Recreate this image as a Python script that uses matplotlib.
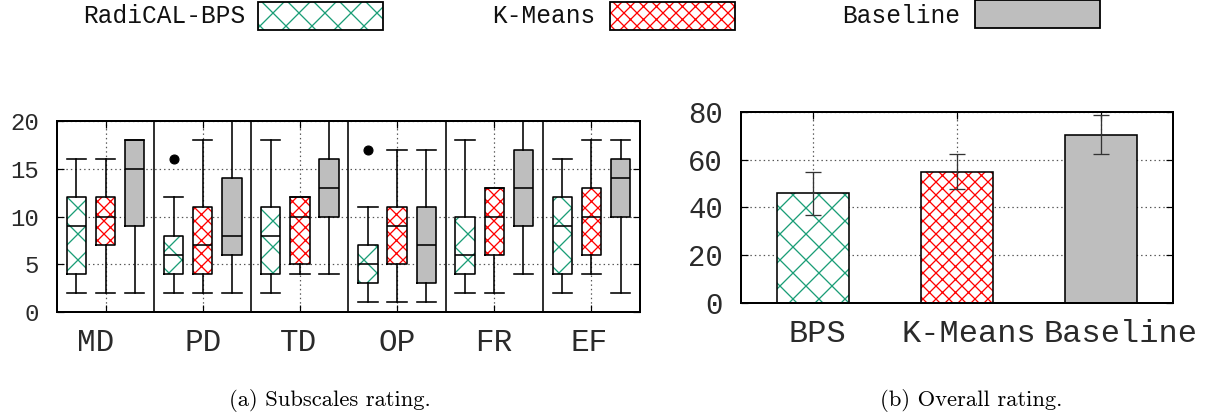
import matplotlib
matplotlib.use("Agg")
import matplotlib.pyplot as plt
from matplotlib.patches import Rectangle
from matplotlib.transforms import ScaledTranslation

DPI = 78
def pt(px):
    return px * 72.0 / DPI

# ---------------- data ----------------
categories = ['MD', 'PD', 'TD', 'OP', 'FR', 'EF']
methods = ['RadiCAL-BPS', 'K-Means', 'Baseline']

bps_whislo = [2, 2, 2, 1, 2, 2]
bps_q1 = [4, 4, 4, 3, 4, 4]
bps_med = [9, 6, 8, 5, 6, 9]
bps_q3 = [12, 8, 11, 7, 10, 12]
bps_whishi = [16, 12, 18, 11, 18, 16]
bps_fliers = [[], [16], [], [17], [], []]

km_whislo = [2, 2, 4, 1, 2, 4]
km_q1 = [7, 4, 5, 5, 6, 6]
km_med = [10, 7, 10, 9, 10, 10]
km_q3 = [12, 11, 12, 11, 13, 13]
km_whishi = [16, 18, 12, 17, 13, 18]
km_fliers = [[], [], [], [], [], []]

base_whislo = [2, 2, 4, 1, 4, 2]
base_q1 = [9, 6, 10, 3, 9, 10]
base_med = [15, 8, 13, 7, 13, 14]
base_q3 = [18, 14, 16, 11, 17, 16]
base_whishi = [18, 20, 20, 17, 20, 18]
base_fliers = [[], [], [], [], [], []]

overall_labels = ['BPS', 'K-Means', 'Baseline']
overall_mean = [46, 55, 70.5]
overall_err = [9, 7.5, 8.2]

subscale_ticks = [0, 5, 10, 15, 20]
overall_ticks = [0, 20, 40, 60, 80]

# ---------------- style ----------------
GREEN = '#1b9e77'
RED = '#ff0000'
GRAY = '#bebebe'
MONO = 'Liberation Mono'
TXT = '#2a2a2a'
plt.rcParams['hatch.linewidth'] = pt(1.3)

fig = plt.figure(figsize=(1207 / DPI, 414 / DPI), dpi=DPI)

axL = fig.add_axes([57 / 1207, 1 - 312 / 414, (640 - 57) / 1207, (312 - 121) / 414])
axR = fig.add_axes([741 / 1207, 1 - 302.7 / 414, (1173 - 741) / 1207, (302.7 - 112) / 414])

grid_kw = dict(color='#555555', linewidth=pt(1.2), linestyle=(0, (1.2, 2.5)))

def style_axes(ax, ylabsize, xlabsize):
    for s in ax.spines.values():
        s.set_linewidth(pt(2))
        s.set_color('black')
    ax.tick_params(direction='in', which='both', top=True, right=True,
                   length=pt(7), width=pt(1.2), color='black')
    ax.tick_params(axis='y', labelsize=pt(ylabsize), pad=pt(18))
    ax.tick_params(axis='x', labelsize=pt(xlabsize), pad=pt(16))
    for lab in ax.get_xticklabels() + ax.get_yticklabels():
        lab.set_fontfamily(MONO)
        lab.set_color(TXT)
    ax.set_axisbelow(True)
    ax.grid(True, **grid_kw)

def shift_labels(ax, offsets):
    for lab, dx in zip(ax.get_xticklabels(), offsets):
        lab.set_transform(lab.get_transform() +
                          ScaledTranslation(dx / DPI, 0, fig.dpi_scale_trans))

# ---------------- subscales boxplot ----------------
series = [
    (bps_whislo, bps_q1, bps_med, bps_q3, bps_whishi, bps_fliers, GREEN, 'x', -0.3),
    (km_whislo, km_q1, km_med, km_q3, km_whishi, km_fliers, RED, 'xx', 0.0),
    (base_whislo, base_q1, base_med, base_q3, base_whishi, base_fliers, None, None, 0.3),
]
line_kw = dict(color='black', linewidth=pt(1.6))
for wl, q1, med, q3, wh, fl, col, hatch, off in series:
    stats = [dict(whislo=wl[i], q1=q1[i], med=med[i], q3=q3[i], whishi=wh[i],
                  fliers=fl[i]) for i in range(len(categories))]
    pos = [i + off for i in range(len(categories))]
    if hatch:
        bp = dict(facecolor='white', edgecolor=col, hatch=hatch, linewidth=0)
    else:
        bp = dict(facecolor=GRAY, edgecolor=GRAY, linewidth=0)
    axL.bxp(stats, positions=pos, widths=0.2, patch_artist=True, boxprops=bp,
            showfliers=False, showcaps=False,
            whiskerprops=dict(linewidth=0), medianprops=dict(linewidth=0),
            manage_ticks=False, zorder=2)
    axL.bxp(stats, positions=pos, widths=0.2, patch_artist=False,
            boxprops=line_kw, whiskerprops=line_kw, capprops=line_kw,
            medianprops=line_kw, capwidths=0.2,
            flierprops=dict(marker='o', markerfacecolor='black',
                            markeredgecolor='black', markersize=pt(9)),
            manage_ticks=False, zorder=3)

for i in range(len(categories) - 1):
    axL.axvline(i + 0.5, color='black', linewidth=pt(1.6), zorder=4)

axL.set_xlim(-0.5, len(categories) - 0.5)
axL.set_ylim(subscale_ticks[0], subscale_ticks[-1])
axL.set_yticks(subscale_ticks)
axL.set_xticks(range(len(categories)))
axL.set_xticklabels(categories)
style_axes(axL, 24, 31)
shift_labels(axL, [-10, 0, -1, 0, 0, -2])

# ---------------- overall bar chart ----------------
xs = list(range(len(overall_labels)))
bar_styles = [('white', GREEN, 'x'), ('white', RED, 'xx'), (GRAY, GRAY, None)]
for x, m, e, (fc, hc, h) in zip(xs, overall_mean, overall_err, bar_styles):
    axR.bar(x, m, width=0.5, color=fc, edgecolor=hc, hatch=h, linewidth=0, zorder=2)
    axR.bar(x, m, width=0.5, fill=False, edgecolor='black', linewidth=pt(1.6), zorder=3)
axR.errorbar(xs, overall_mean, yerr=overall_err, fmt='none', ecolor='#333333',
             elinewidth=pt(1.3), capsize=pt(8), capthick=pt(1.3), zorder=4)
axR.set_xlim(-0.5, len(overall_labels) - 0.5)
axR.set_ylim(overall_ticks[0], overall_ticks[-1])
axR.set_yticks(overall_ticks)
axR.set_xticks(xs)
axR.set_xticklabels(overall_labels)
style_axes(axR, 29, 32)
# gnuplot places these labels slightly right of the bar centres
shift_labels(axR, [4, 12, 20])

# ---------------- legend ----------------
leg_items = [
    (methods[0], 245, 258, 'white', GREEN, 'x'),
    (methods[1], 595, 610, 'white', RED, 'xx'),
    (methods[2], 960, 975, GRAY, GRAY, None),
]
for lab, tx, bx, fc, hc, h in leg_items:
    y0, y1 = (30, 2) if h else (28, 0)
    fig.text(tx / 1207, 1 - 16 / 414, lab, ha='right', va='center',
             fontfamily=MONO, fontsize=pt(24.5), color='#111111')
    r = Rectangle((bx / 1207, 1 - y0 / 414), 125 / 1207, (y0 - y1) / 414,
                  transform=fig.transFigure, facecolor=fc, edgecolor=hc,
                  hatch=h, linewidth=0)
    fig.add_artist(r)
    r2 = Rectangle((bx / 1207, 1 - y0 / 414), 125 / 1207, (y0 - y1) / 414,
                   transform=fig.transFigure, fill=False, edgecolor='black',
                   linewidth=pt(1.8))
    fig.add_artist(r2)

# ---------------- captions ----------------
fig.text(330 / 1207, 1 - 400 / 414, '(a) Subscales rating.', ha='center', va='center',
         fontfamily='cmr10', fontsize=pt(22.6))
fig.text(971 / 1207, 1 - 400 / 414, '(b) Overall rating.', ha='center', va='center',
         fontfamily='cmr10', fontsize=pt(22.6))

fig.savefig('out.png', dpi=DPI)
